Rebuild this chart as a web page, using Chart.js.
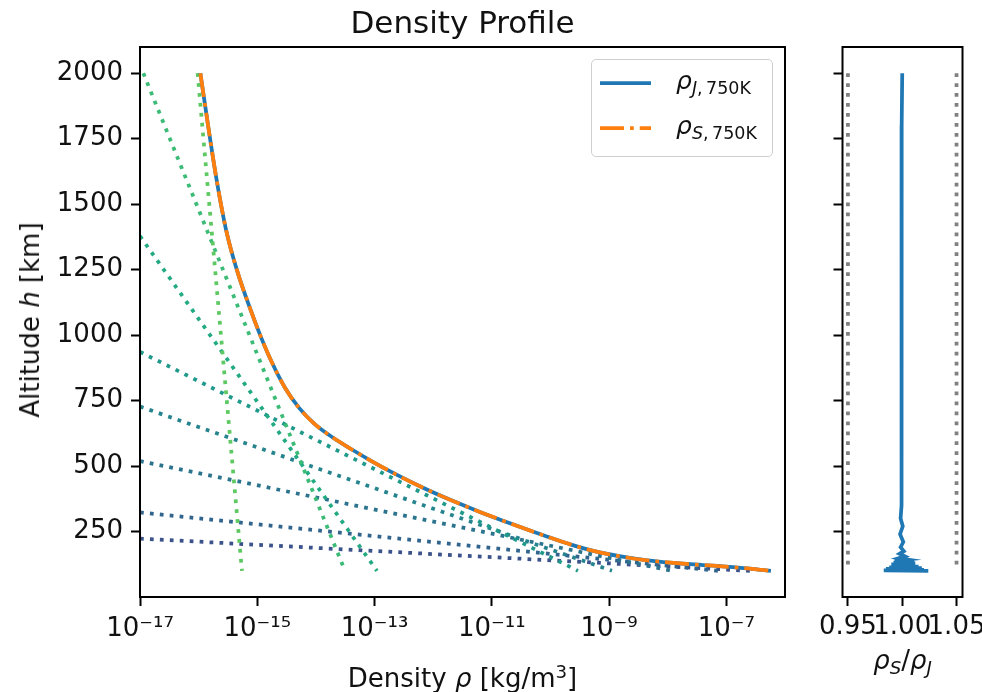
<!DOCTYPE html>
<html>
<head>
<meta charset="utf-8">
<script src="https://cdn.jsdelivr.net/npm/chart.js@4.4.1/dist/chart.umd.min.js"></script>
<style>
html,body{margin:0;padding:0;background:#fff;}
#wrap{position:relative;width:982px;height:692px;overflow:hidden;font-family:"DejaVu Sans",sans-serif;color:#111;}
canvas{position:absolute;top:0;}
.t{position:absolute;white-space:nowrap;transform:translate(-50%,-50%);line-height:1;}
.m sub{font-size:0.7em;vertical-align:-0.3em;}
.m sup{font-size:0.7em;vertical-align:0.5em;}
#legend{position:absolute;left:591px;top:59px;width:182px;height:98px;border:1px solid #cfcfcf;border-radius:5px;background:rgba(255,255,255,0.8);box-sizing:border-box;}
.lt{position:absolute;white-space:nowrap;font-size:25px;line-height:1;transform:translateY(-50%);}
</style>
</head>
<body>
<div id="wrap">
  <canvas id="main" width="800" height="692" style="left:0;width:800px;height:692px"></canvas>
  <canvas id="ratio" width="200" height="692" style="left:800px;width:200px;height:692px"></canvas>
  <div class="t" style="left:462.5px;top:22px;font-size:31px;">Density Profile</div>
  <div class="t m" style="left:462.5px;top:677px;font-size:26px;">Density <i>ρ</i> [kg/m<sup>3</sup>]</div>
  <div class="t m" style="left:30px;top:320px;font-size:26px;transform:translate(-50%,-50%) rotate(-90deg);">Altitude <i>h</i> [km]</div>
  <div class="t m" style="left:902.5px;top:662px;font-size:26px;"><i>ρ</i><sub><i>S</i></sub>/<i>ρ</i><sub><i>J</i></sub></div>
  <div id="legend"></div>
  <svg style="position:absolute;left:0;top:0;" width="982" height="692">
    <line x1="600" y1="83" x2="651" y2="83" stroke="#1f77b4" stroke-width="3.75"/>
    <line x1="600" y1="128" x2="651" y2="128" stroke="#ff7f0e" stroke-width="3.75" stroke-dasharray="24 6 3.75 6"/>
  </svg>
  <div class="lt m" style="left:676px;top:83px;"><i>ρ</i><sub><i>J</i>,&thinsp;750K</sub></div>
  <div class="lt m" style="left:676px;top:128px;"><i>ρ</i><sub><i>S</i>,&thinsp;750K</sub></div>
</div>
<script>
// ---- Main profile (altitude in km, density in kg/m^3) ----
const altitudes = [2000, 1800, 1600, 1400, 1250, 1100, 1000, 900, 800, 720, 660, 610, 565, 520, 470, 420, 370, 320, 270, 230, 200, 175, 155, 140, 130, 122, 115, 108, 104, 100];
const rhoJ = [1.07e-16, 1.45e-16, 2.00e-16, 2.95e-16, 4.47e-16, 7.59e-16, 1.12e-15, 1.74e-15, 2.95e-15, 5.25e-15, 9.55e-15, 1.91e-14, 3.98e-14, 8.71e-14, 2.24e-13, 6.31e-13, 2.00e-12, 7.08e-12, 2.82e-11, 8.91e-11, 2.24e-10, 5.62e-10, 1.58e-9, 4.47e-9, 1.26e-8, 3.98e-8, 1.12e-7, 2.51e-7, 3.80e-7, 5.75e-7];
const rhoS = [1.07e-16, 1.45e-16, 2.00e-16, 2.95e-16, 4.47e-16, 7.59e-16, 1.12e-15, 1.74e-15, 2.95e-15, 5.25e-15, 9.55e-15, 1.91e-14, 3.98e-14, 8.71e-14, 2.24e-13, 6.31e-13, 2.00e-12, 7.08e-12, 2.82e-11, 8.91e-11, 2.24e-10, 5.62e-10, 1.58e-9, 4.47e-9, 1.26e-8, 3.98e-8, 1.12e-7, 2.51e-7, 3.80e-7, 5.75e-7];

// ---- Exponential components (dotted), from lowest to highest layer ----
const compUpperAlt = [223, 323, 519, 727, 936, 1378, 2000, 2000];
const compUpperRho = [1e-17, 1e-17, 1e-17, 1e-17, 1e-17, 1e-17, 1.14e-17, 9.6e-17];
const compLowerAlt = [100, 100, 100, 100, 100, 100, 100, 100];
const compLowerRho = [2.52e-7, 7.2e-8, 1.18e-8, 1.12e-9, 2.94e-10, 1.10e-13, 3.13e-14, 5.48e-16];
const compColors = ['#3b528b', '#32658e', '#2c738e', '#25848e', '#1f998a', '#24aa83', '#3bbb75', '#5ec962'];

// ---- Ratio panel ----
const ratioAlt = [2000, 1800, 1500, 1200, 1000, 800, 600, 450, 350, 300, 270, 240, 210, 190, 175, 165, 155, 148, 143, 140, 137, 134, 131, 128, 125, 122, 119, 116, 113, 110, 107, 104, 102, 100];
const ratioVal = [1.000, 0.9995, 0.9995, 0.9993, 0.9995, 0.9993, 0.9995, 0.9990, 0.9995, 0.9985, 1.0005, 0.9980, 1.0010, 0.9985, 1.0015, 0.9975, 1.0025, 0.9970, 1.0050, 0.9990, 0.9930, 1.0110, 0.9920, 1.0120, 0.9900, 1.0060, 0.9950, 1.0150, 0.9880, 1.0180, 0.9850, 1.0200, 0.9830, 1.0240];
const boundAlt = [2000, 100];
const lowerBound = [0.95, 0.95];
const upperBound = [1.05, 1.05];

// ---- Ticks ----
const xTickValues = [1e-17, 1e-15, 1e-13, 1e-11, 1e-9, 1e-7];
const xTickLabels = ['10\u207B\u00B9\u2077', '10\u207B\u00B9\u2075', '10\u207B\u00B9\u00B3', '10\u207B\u00B9\u00B9', '10\u207B\u2079', '10\u207B\u2077'];
const yTickValues = [250, 500, 750, 1000, 1250, 1500, 1750, 2000];
const yTickLabels = ['250', '500', '750', '1000', '1250', '1500', '1750', '2000'];
const rTickValues = [0.95, 1.00, 1.05];
const rTickLabels = ['0.95', '1.00', '1.05'];

Chart.defaults.font.family = 'DejaVu Sans';
Chart.defaults.color = '#111';

const pts = (xs, ys) => xs.map((x, i) => ({x: x, y: ys[i]}));

const frame = {
  id: 'frame',
  afterDraw(c) {
    const a = c.chartArea, ctx = c.ctx;
    ctx.save();
    ctx.strokeStyle = '#000';
    ctx.lineWidth = 2;
    ctx.strokeRect(a.left, a.top, a.right - a.left, a.bottom - a.top);
    ctx.restore();
  }
};

const tickGrid = {display: true, drawOnChartArea: false, drawTicks: true, tickLength: 9, tickWidth: 2, tickColor: '#000'};
const tickFont = {family: 'DejaVu Sans', size: 26};

const datasets = [];
for (let i = 0; i < compColors.length; i++) {
  datasets.push({
    data: [{x: compUpperRho[i], y: compUpperAlt[i]}, {x: compLowerRho[i], y: compLowerAlt[i]}],
    showLine: true, pointRadius: 0, borderColor: compColors[i], borderWidth: 3.75,
    borderDash: [3.75, 6.2], borderCapStyle: 'butt', order: 10 - i
  });
}
datasets.push({data: pts(rhoJ, altitudes), showLine: true, pointRadius: 0, borderColor: '#1f77b4', borderWidth: 3.75, cubicInterpolationMode: 'monotone', order: 1});
datasets.push({data: pts(rhoS, altitudes), showLine: true, pointRadius: 0, borderColor: '#ff7f0e', borderWidth: 3.75, cubicInterpolationMode: 'monotone', borderDash: [24, 6, 3.75, 6], borderCapStyle: 'butt', order: 0});

new Chart(document.getElementById('main'), {
  type: 'scatter',
  data: {datasets: datasets},
  options: {
    responsive: false, animation: false, devicePixelRatio: 1,
    layout: {padding: {left: 0, right: 15, top: 47, bottom: 0}},
    plugins: {legend: {display: false}, tooltip: {enabled: false}, title: {display: false}},
    scales: {
      x: {
        type: 'logarithmic', min: 1e-17, max: 1e-6,
        afterFit(s) { s.height = 95; },
        afterBuildTicks(s) { s.ticks = xTickValues.map(v => ({value: v})); },
        ticks: {font: tickFont, color: '#111', padding: 8, maxRotation: 0, autoSkip: false,
                callback: (v, i) => xTickLabels[i]},
        grid: tickGrid, border: {display: false}
      },
      y: {
        type: 'linear', min: 0, max: 2100,
        afterFit(s) { s.width = 140; },
        afterBuildTicks(s) { s.ticks = yTickValues.map(v => ({value: v})); },
        ticks: {font: tickFont, color: '#111', padding: 8, autoSkip: false,
                callback: (v, i) => yTickLabels[i]},
        grid: tickGrid, border: {display: false}
      }
    }
  },
  plugins: [frame]
});

new Chart(document.getElementById('ratio'), {
  type: 'scatter',
  data: {datasets: [
    {data: pts(ratioVal, ratioAlt), showLine: true, pointRadius: 0, borderColor: '#1f77b4', borderWidth: 3.75, order: 0},
    {data: pts(lowerBound, boundAlt), showLine: true, pointRadius: 0, borderColor: '#808080', borderWidth: 3.75, borderDash: [3.75, 6.2], borderCapStyle: 'butt', order: 1},
    {data: pts(upperBound, boundAlt), showLine: true, pointRadius: 0, borderColor: '#808080', borderWidth: 3.75, borderDash: [3.75, 6.2], borderCapStyle: 'butt', order: 1}
  ]},
  options: {
    responsive: false, animation: false, devicePixelRatio: 1,
    layout: {padding: {left: 0, right: 37.5, top: 47, bottom: 0}},
    plugins: {legend: {display: false}, tooltip: {enabled: false}, title: {display: false}},
    scales: {
      x: {
        type: 'linear', min: 0.945, max: 1.0555,
        afterFit(s) { s.height = 95; },
        afterBuildTicks(s) { s.ticks = rTickValues.map(v => ({value: v})); },
        ticks: {font: tickFont, color: '#111', padding: 6, maxRotation: 0, autoSkip: false,
                callback: (v, i) => rTickLabels[i]},
        grid: tickGrid, border: {display: false}
      },
      y: {
        type: 'linear', min: 0, max: 2100,
        afterFit(s) { s.width = 42.5; },
        afterBuildTicks(s) { s.ticks = yTickValues.map(v => ({value: v})); },
        ticks: {display: false},
        grid: tickGrid, border: {display: false}
      }
    }
  },
  plugins: [frame]
});
</script>
</body>
</html>
